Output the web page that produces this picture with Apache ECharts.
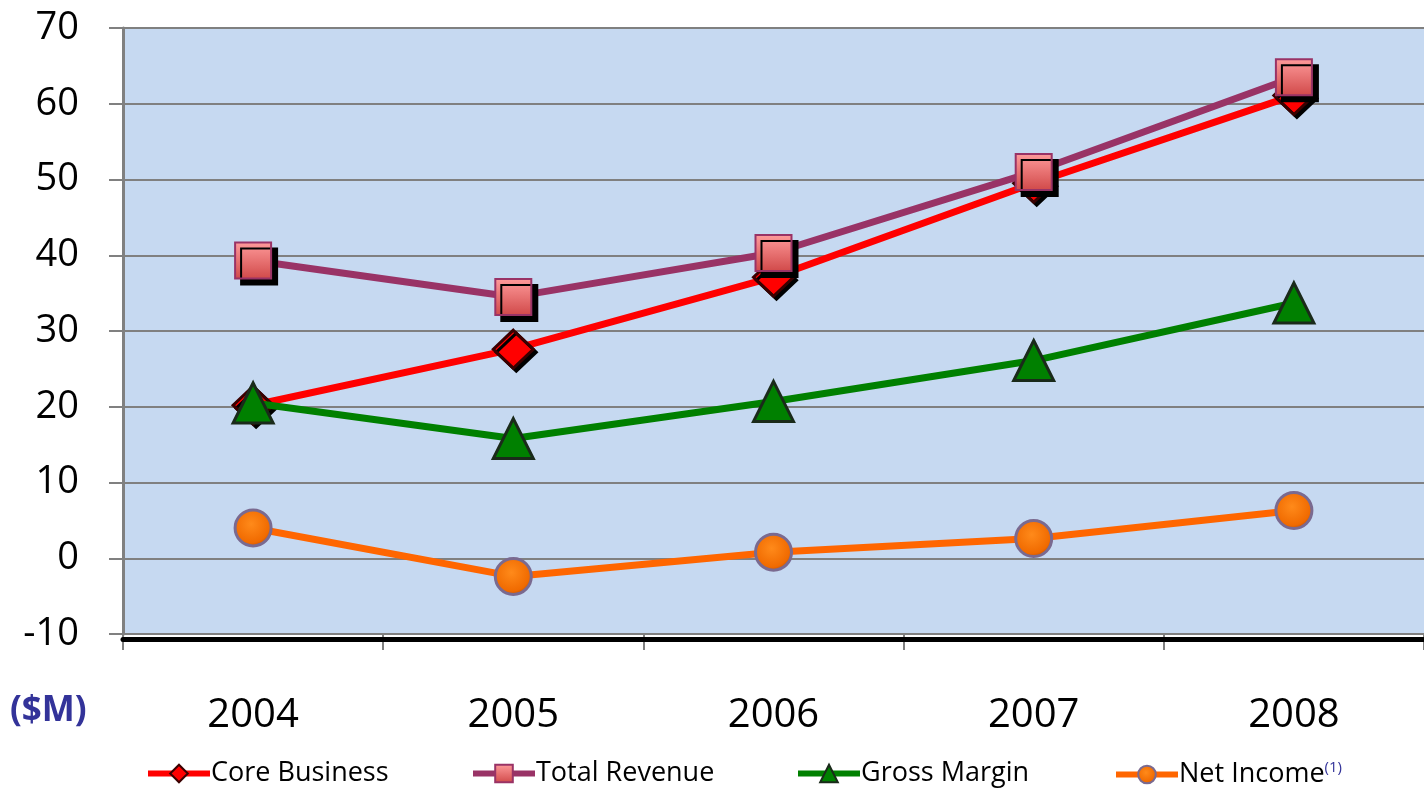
<!DOCTYPE html>
<html>
<head>
<meta charset="utf-8">
<script src="https://cdn.jsdelivr.net/npm/echarts@6/dist/echarts.min.js"></script>
<style>
  html, body { margin: 0; padding: 0; background: #fff; }
  #main { width: 1424px; height: 788px; }
</style>
</head>
<body>
<div id="main"></div>
<script>
const years = ['2004', '2005', '2006', '2007', '2008']
const coreBusiness = [20.2, 27.6, 37.1, 49.5, 61.1]
const totalRevenue = [39.3, 34.5, 40.3, 51.0, 63.5]
const grossMargin = [20.5, 15.8, 20.7, 26.1, 33.7]
const netIncome = [4.0, -2.4, 0.8, 2.6, 6.3]
const seriesNames = ['Core Business', 'Total Revenue', 'Gross Margin', 'Net Income']
const legendLeft = [140, 465, 790, 1108]

const font = '"Open Sans", "Noto Sans", sans-serif'
const myChart = echarts.init(document.getElementById('main'))

const shadow = {
    shadowColor: '#000',
    shadowOffsetX: 6,
    shadowOffsetY: 6,
    shadowBlur: 0
}

// one legend per item so each sits where it does in the original
const legends = seriesNames.map((name, i) => ({
    left: legendLeft[i],
    top: 755,
    itemWidth: 62,
    itemHeight: 22,
    lineStyle: { width: 6 },
    itemStyle: { shadowColor: 'transparent' },
    textStyle: {
        fontSize: 27,
        color: '#000',
        fontFamily: font,
        padding: [0, 0, 0, -4],
        rich: {
            sup: { fontSize: 15, color: '#333399', verticalAlign: 'top', padding: [0, 0, 14, 0] }
        }
    },
    formatter: function (n) {
        return n === 'Net Income' ? n + '{sup|(1)}' : n
    },
    data: [name]
}))

let option = {
    backgroundColor: '#fff',
    animation: false,
    textStyle: { fontFamily: font },
    grid: {
        left: 123,
        right: -3,
        top: 28,
        bottom: 154,
        show: true,
        backgroundColor: '#c6d9f1',
        borderWidth: 0
    },
    legend: legends,
    graphic: [{
        type: 'text',
        left: 10,
        top: 694,
        style: {
            text: '($M)',
            fill: '#333399',
            font: 'bold 35px ' + font
        }
    }],
    xAxis: [{
        type: 'category',
        data: years,
        boundaryGap: true,
        axisLine: {
            onZero: false,
            lineStyle: { color: '#808080', width: 2 }
        },
        axisTick: {
            show: true,
            length: 16,
            lineStyle: { color: '#808080', width: 2 }
        },
        axisLabel: {
            fontSize: 40,
            color: '#000',
            margin: 62,
            fontFamily: font
        }
    }, {
        // black shadow line under the bottom axis
        type: 'category',
        data: years,
        position: 'bottom',
        offset: 5,
        axisLine: {
            onZero: false,
            lineStyle: { color: '#000', width: 5 }
        },
        axisTick: { show: false },
        axisLabel: { show: false },
        z: 1
    }],
    yAxis: {
        type: 'value',
        min: -10,
        max: 70,
        interval: 10,
        axisLine: {
            show: true,
            lineStyle: { color: '#808080', width: 3 }
        },
        axisTick: {
            show: true,
            length: 14,
            lineStyle: { color: '#808080', width: 2 }
        },
        splitLine: {
            lineStyle: { color: '#808080', width: 2 }
        },
        axisLabel: {
            fontSize: 38,
            color: '#000',
            margin: 44,
            fontFamily: font
        }
    },
    series: [{
        name: 'Core Business',
        type: 'line',
        data: coreBusiness,
        symbol: 'diamond',
        symbolSize: [40, 38],
        z: 3,
        lineStyle: { color: '#ff0000', width: 7 },
        itemStyle: Object.assign({
            color: '#ff0000',
            borderColor: '#3a0000',
            borderWidth: 3
        }, shadow, { shadowOffsetX: 3, shadowOffsetY: 3 })
    }, {
        name: 'Total Revenue',
        type: 'line',
        data: totalRevenue,
        symbol: 'rect',
        symbolSize: 36,
        z: 4,
        lineStyle: { color: '#993366', width: 7 },
        itemStyle: Object.assign({
            color: new echarts.graphic.LinearGradient(0, 0, 0, 1, [
                { offset: 0, color: '#ff9c9c' },
                { offset: 1, color: '#d04848' }
            ]),
            borderColor: '#993366',
            borderWidth: 2
        }, shadow)
    }, {
        name: 'Gross Margin',
        type: 'line',
        data: grossMargin,
        symbol: 'triangle',
        symbolSize: [40, 40],
        z: 5,
        lineStyle: { color: '#008000', width: 7 },
        itemStyle: {
            color: '#008000',
            borderColor: '#1a2a1a',
            borderWidth: 3
        }
    }, {
        name: 'Net Income',
        type: 'line',
        data: netIncome,
        symbol: 'circle',
        symbolSize: 36,
        z: 6,
        lineStyle: { color: '#ff6600', width: 7 },
        itemStyle: {
            color: new echarts.graphic.RadialGradient(0.45, 0.4, 0.6, [
                { offset: 0, color: '#ff8a1a' },
                { offset: 0.8, color: '#f06a00' },
                { offset: 1, color: '#c05000' }
            ]),
            borderColor: '#7a6a90',
            borderWidth: 3
        }
    }]
}

myChart.setOption(option)
</script>
</body>
</html>
